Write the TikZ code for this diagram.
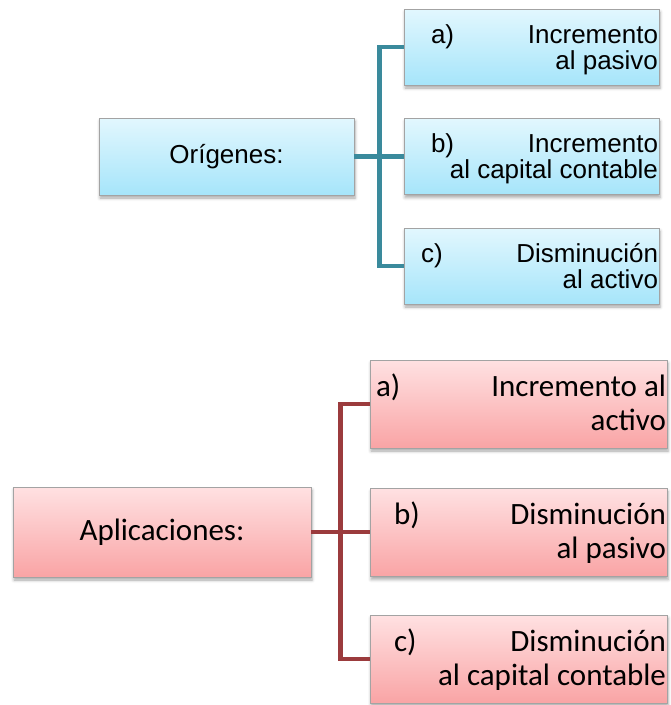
\documentclass[tikz,border=0pt]{standalone}
\usepackage{fontspec}
\newfontfamily\arialfont{Liberation Sans}
\newfontfamily\calibrifont{Carlito}
\usetikzlibrary{shadows.blur}

\definecolor{blueTop}{HTML}{E2F7FE}
\definecolor{blueBot}{HTML}{A6E5FA}
\definecolor{pinkTop}{HTML}{FFE1E2}
\definecolor{pinkBot}{HTML}{F9A4A5}
\definecolor{boxborder}{HTML}{A3A3A3}
\definecolor{tealline}{HTML}{3A8A9C}
\definecolor{redline}{HTML}{9B3B3D}

% first line of an item: label on the left, text pushed to the right edge
\newcommand{\itemhead}[3]{\makebox[\linewidth][l]{\hspace*{#1}#2\hfill #3}}

\begin{document}
\begin{tikzpicture}[x=1pt,y=-1pt,
  box/.style={rectangle, draw=boxborder, line width=0.8pt, inner ysep=0pt, inner xsep=1pt,
    blur shadow={shadow xshift=1pt, shadow yshift=-3pt, shadow blur radius=3pt, shadow opacity=35}},
  bluebox/.style={box, top color=blueTop, bottom color=blueBot,
    font=\arialfont\fontsize{26}{26}\selectfont},
  pinkbox/.style={box, top color=pinkTop, bottom color=pinkBot,
    font=\calibrifont\fontsize{31}{34}\selectfont},
  topitem/.style={bluebox, text width=253pt, minimum height=76pt, align=flush right,
    text height=20pt, text depth=28pt},
  botitem/.style={pinkbox, text width=295pt, minimum height=88pt, align=flush right,
    text height=22pt, text depth=38pt},
  tealconn/.style={draw=tealline, line width=4.5pt, line join=miter},
  redconn/.style={draw=redline, line width=4.5pt, line join=miter}]

\useasboundingbox (0,0) rectangle (671,705);

% ---- sources ----
\node[bluebox, minimum width=255pt, minimum height=77pt] (orig) at (226.5,156.5) {Orígenes:};
\node[topitem] (ta) at (531.5,47)    {\itemhead{26pt}{a)}{Incremento}\\al pasivo};
\node[topitem] (tb) at (531.5,156.5) {\itemhead{26pt}{b)}{Incremento}\\al capital contable};
\node[topitem] (tc) at (531.5,266)   {\itemhead{16pt}{c)}{Disminución}\\al activo};

\draw[tealconn] (orig.east) -- (orig.east -| tb.west);
\draw[tealconn] (ta.west) -- ++(-24,0) |- (tc.west);

% ---- uses ----
\node[pinkbox, minimum width=298pt, minimum height=90pt] (apl) at (162,532) {Aplicaciones:};
\node[botitem] (ba) at (518.5,404)   {\itemhead{5pt}{a)}{Incremento al}\\activo};
\node[botitem] (bb) at (518.5,532.5) {\itemhead{23pt}{b)}{Disminución}\\al pasivo};
\node[botitem] (bc) at (518.5,659)   {\itemhead{23pt}{c)}{Disminución}\\al capital contable};

\draw[redconn] (apl.east) -- (apl.east -| bb.west);
\draw[redconn] (ba.west) -- ++(-29,0) |- (bc.west);
\end{tikzpicture}
\end{document}
